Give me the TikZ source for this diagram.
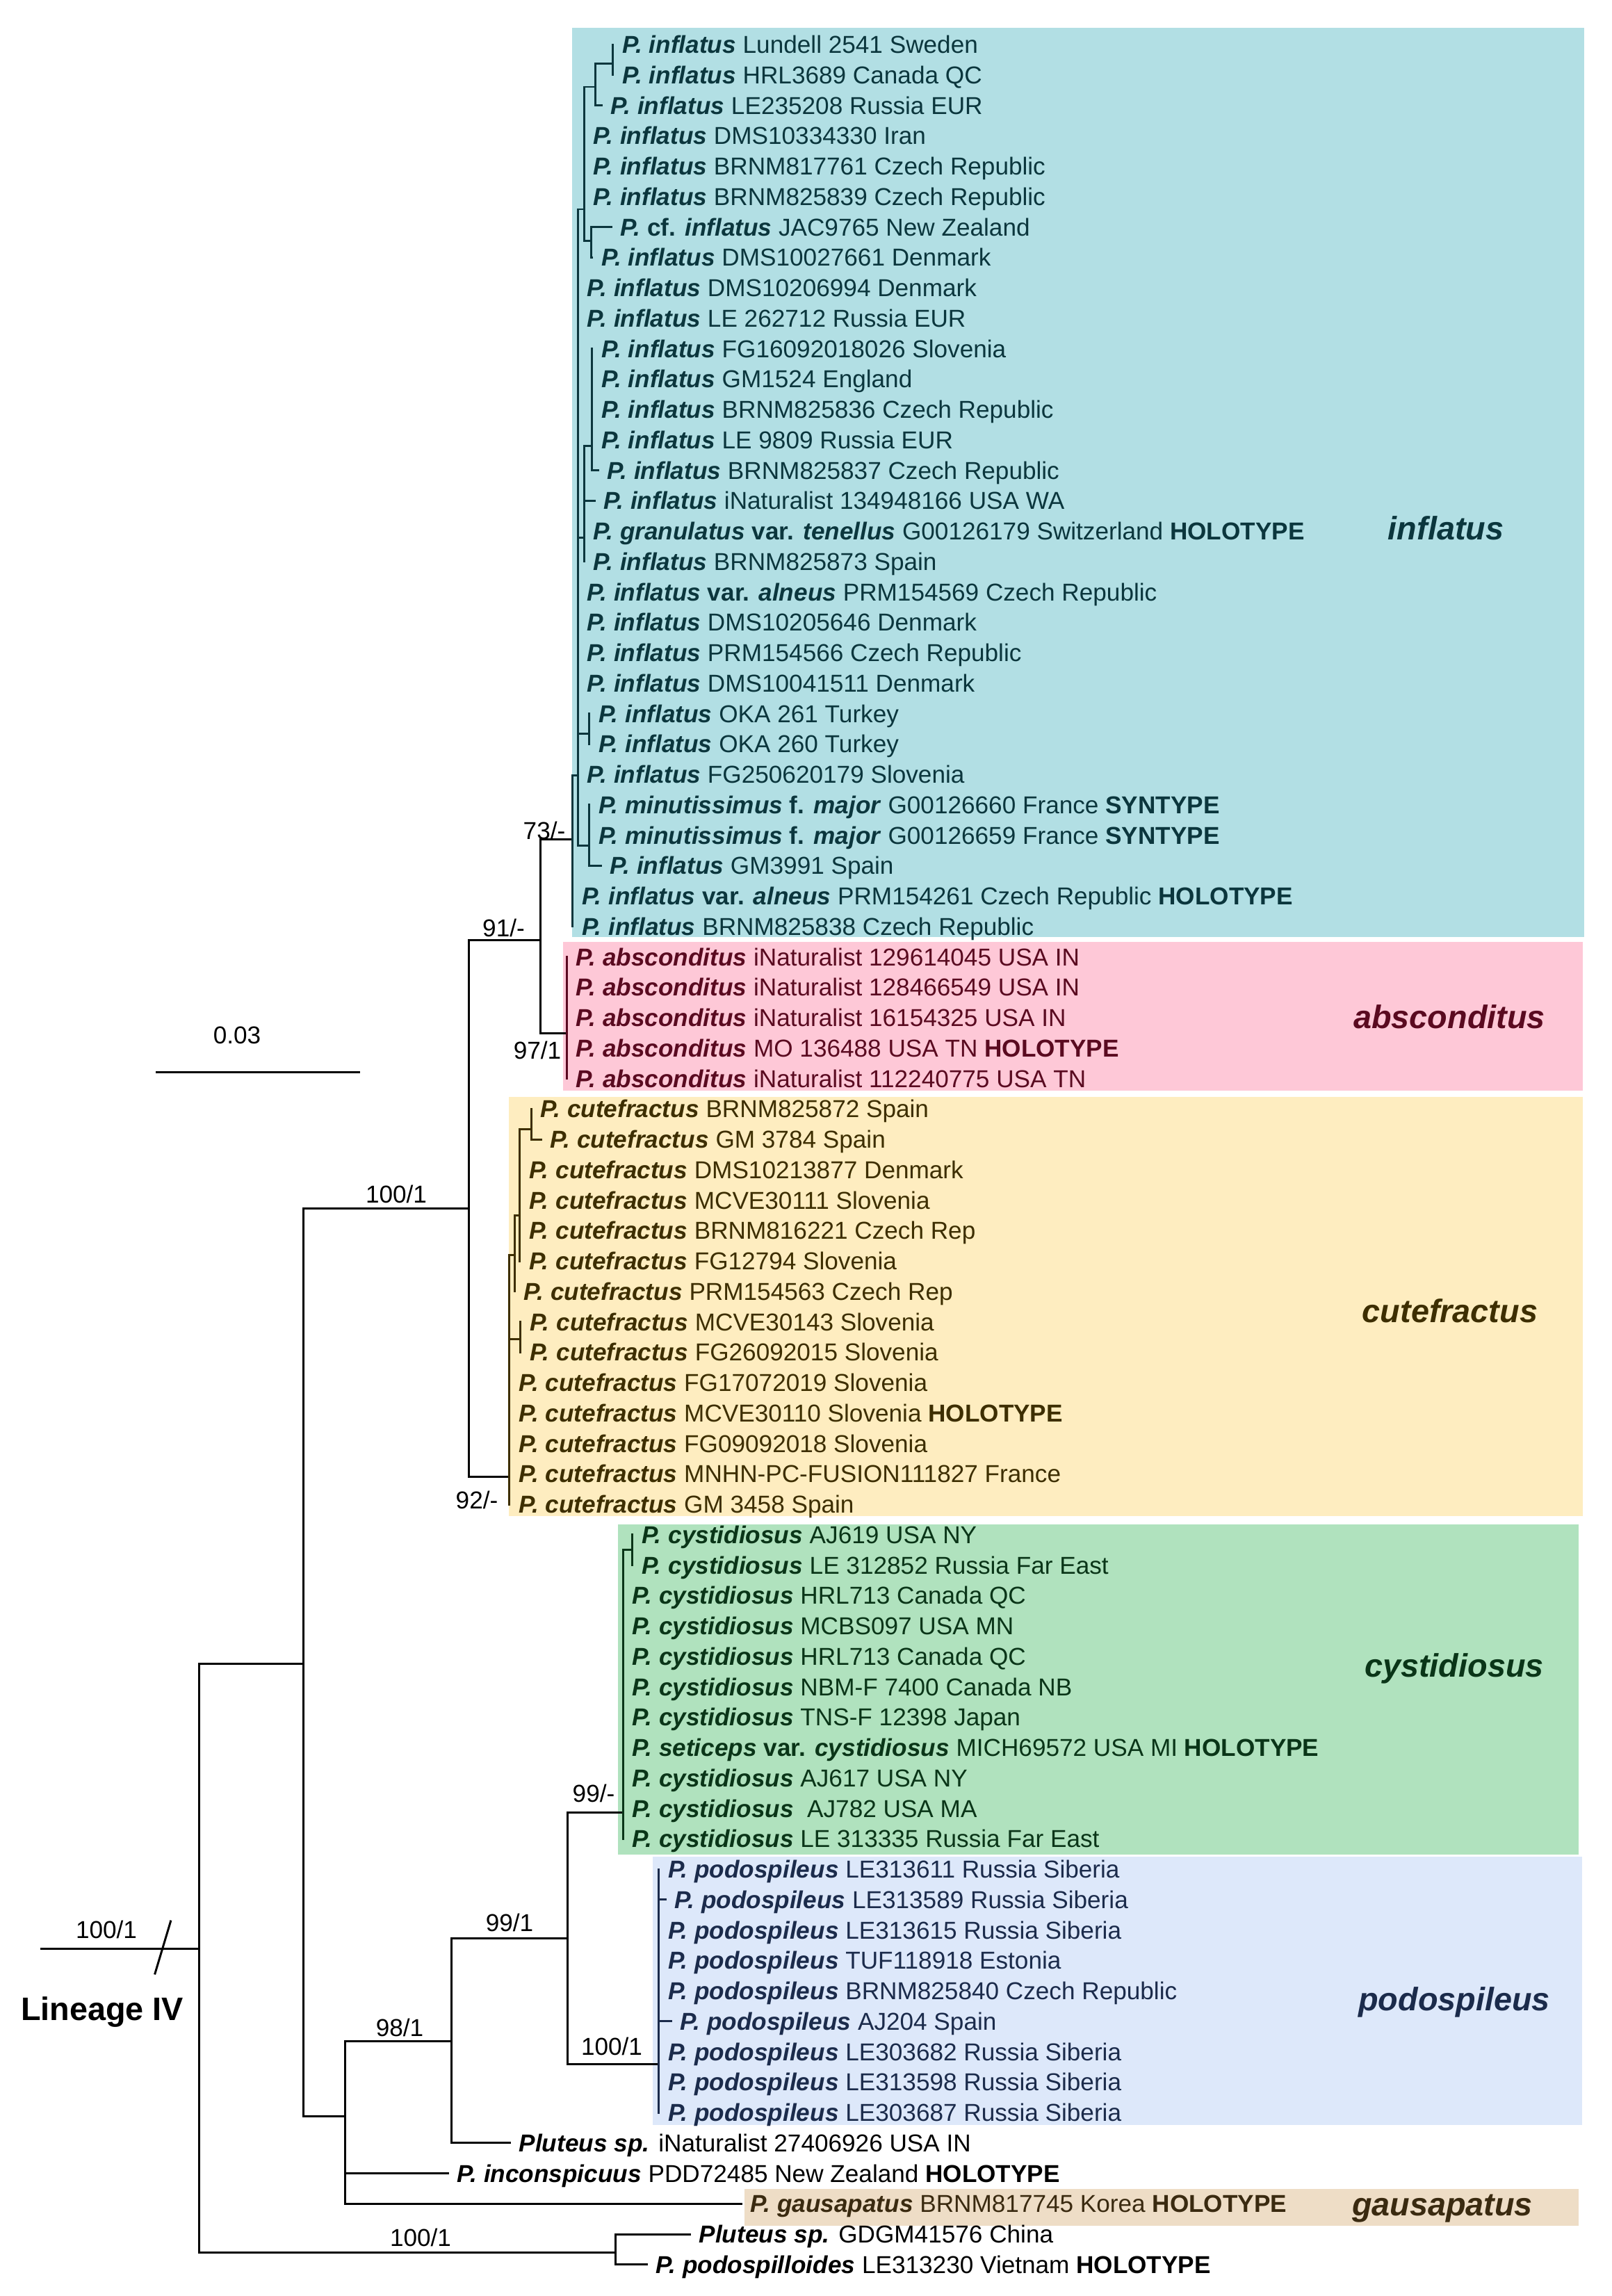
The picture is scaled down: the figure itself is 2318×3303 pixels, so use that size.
\documentclass[tikz,border=0pt]{standalone}
\usepackage{fontspec}
\setmainfont{Liberation Sans}
\newcommand{\sbi}[1]{\textbf{\textit{#1}}}
\newcommand{\sbf}[1]{\textbf{#1}}
\definecolor{infF}{HTML}{B2DFE4}
\definecolor{absF}{HTML}{FEC8D7}
\definecolor{cutF}{HTML}{FEEDC0}
\definecolor{cysF}{HTML}{B0E2BE}
\definecolor{podF}{HTML}{DDE8FA}
\definecolor{gauF}{HTML}{EEDDC6}
\definecolor{infD}{HTML}{0B363D}
\definecolor{absD}{HTML}{5A0A20}
\definecolor{cutD}{HTML}{3D2E00}
\definecolor{cysD}{HTML}{0A3518}
\definecolor{podD}{HTML}{1B2B4B}
\definecolor{gauD}{HTML}{3A2A10}
\begin{document}
\begin{tikzpicture}[x=0.01cm,y=-0.01cm,
 br/.style={line width=0.85pt, line cap=rect},
 tip/.style={anchor=west, inner xsep=0.13cm, inner ysep=0pt, text height=7.16pt, text depth=0pt, font=\fontsize{10pt}{12pt}\selectfont},
 supp/.style={inner sep=0pt, text height=7.16pt, text depth=0pt, font=\fontsize{10pt}{12pt}\selectfont},
 big/.style={inner sep=0pt, text height=9.5pt, text depth=0pt, font=\fontsize{13.3pt}{16pt}\selectfont\bfseries\itshape}]
\useasboundingbox (0,0) rectangle (2318,3303);
% clade boxes
\fill[infF] (822.5,40) rectangle (2279,1348);
\fill[absF] (809.5,1355) rectangle (2277,1569);
\fill[cutF] (731.7,1578) rectangle (2277,2181);
\fill[cysF] (889.3,2193) rectangle (2271,2668);
\fill[podF] (939.3,2671) rectangle (2276,3057);
\fill[gauF] (1071,3149) rectangle (2271,3202);
% internal nodes
\coordinate (stem0) at (59.6,2803);
\coordinate (root) at (286.5,2803);
\coordinate (A) at (436.5,2393.5);
\coordinate (G) at (885,3240);
\coordinate (B) at (674.5,1738);
\coordinate (D) at (496.7,3044);
\coordinate (C) at (777,1352);
\coordinate (cut0) at (732.7,2124);
\coordinate (rInf) at (823.3,1207.7);
\coordinate (rAbs) at (815,1486.5);
\coordinate (n5) at (831,1115);
\coordinate (n3) at (840,301);
\coordinate (n2) at (856.7,125);
\coordinate (n1) at (881.7,91.7);
\coordinate (n4) at (850,346.7);
\coordinate (n7) at (840,773);
\coordinate (n6) at (851.7,641.7);
\coordinate (n9) at (847.3,1055);
\coordinate (n10) at (847.3,1216.7);
\coordinate (cut1) at (740,1805);
\coordinate (cut2) at (747.3,1748);
\coordinate (cut3) at (764,1624);
\coordinate (cut4) at (748.3,1926);
\coordinate (E) at (649,2936);
\coordinate (F) at (816,2788);
\coordinate (rCys) at (896,2607);
\coordinate (cysS) at (909.3,2229.6);
\coordinate (rPod) at (947.3,2969);
% tips: inflatus
\node[tip,text=infD] (t1) at (881.7,64) {\sbi{P. inflatus} Lundell 2541 Sweden};
\node[tip,text=infD] (t2) at (881.7,107.75) {\sbi{P. inflatus} HRL3689 Canada QC};
\node[tip,text=infD] (t3) at (865,151.5) {\sbi{P. inflatus} LE235208 Russia EUR};
\node[tip,text=infD] (t4) at (840,195.25) {\sbi{P. inflatus} DMS10334330 Iran};
\node[tip,text=infD] (t5) at (840,239) {\sbi{P. inflatus} BRNM817761 Czech Republic};
\node[tip,text=infD] (t6) at (840,282.75) {\sbi{P. inflatus} BRNM825839 Czech Republic};
\node[tip,text=infD] (t7) at (879,326.5) {\sbi{P.} \sbf{cf.} \sbi{inflatus} JAC9765 New Zealand};
\node[tip,text=infD] (t8) at (851.5,370.25) {\sbi{P. inflatus} DMS10027661 Denmark};
\node[tip,text=infD] (t9) at (831,414) {\sbi{P. inflatus} DMS10206994 Denmark};
\node[tip,text=infD] (t10) at (831,457.75) {\sbi{P. inflatus} LE 262712 Russia EUR};
\node[tip,text=infD] (t11) at (851.7,501.5) {\sbi{P. inflatus} FG16092018026 Slovenia};
\node[tip,text=infD] (t12) at (851.7,545.25) {\sbi{P. inflatus} GM1524 England};
\node[tip,text=infD] (t13) at (851.7,589) {\sbi{P. inflatus} BRNM825836 Czech Republic};
\node[tip,text=infD] (t14) at (851.7,632.75) {\sbi{P. inflatus} LE 9809 Russia EUR};
\node[tip,text=infD] (t15) at (860,676.5) {\sbi{P. inflatus} BRNM825837 Czech Republic};
\node[tip,text=infD] (t16) at (855,720.25) {\sbi{P. inflatus} iNaturalist 134948166 USA WA};
\node[tip,text=infD] (t17) at (840,764) {\sbi{P. granulatus} \sbf{var.} \sbi{tenellus} G00126179 Switzerland \sbf{HOLOTYPE}};
\node[tip,text=infD] (t18) at (840,807.75) {\sbi{P. inflatus} BRNM825873 Spain};
\node[tip,text=infD] (t19) at (831,851.5) {\sbi{P. inflatus} \sbf{var.} \sbi{alneus} PRM154569 Czech Republic};
\node[tip,text=infD] (t20) at (831,895.25) {\sbi{P. inflatus} DMS10205646 Denmark};
\node[tip,text=infD] (t21) at (831,939) {\sbi{P. inflatus} PRM154566 Czech Republic};
\node[tip,text=infD] (t22) at (831,982.75) {\sbi{P. inflatus} DMS10041511 Denmark};
\node[tip,text=infD] (t23) at (847.3,1026.5) {\sbi{P. inflatus} OKA 261 Turkey};
\node[tip,text=infD] (t24) at (847.3,1070.25) {\sbi{P. inflatus} OKA 260 Turkey};
\node[tip,text=infD] (t25) at (831,1114) {\sbi{P. inflatus} FG250620179 Slovenia};
\node[tip,text=infD] (t26) at (847.3,1157.75) {\sbi{P. minutissimus} \sbf{f.} \sbi{major} G00126660 France \sbf{SYNTYPE}};
\node[tip,text=infD] (t27) at (847.3,1201.5) {\sbi{P. minutissimus} \sbf{f.} \sbi{major} G00126659 France \sbf{SYNTYPE}};
\node[tip,text=infD] (t28) at (864,1245.25) {\sbi{P. inflatus} GM3991 Spain};
\node[tip,text=infD] (t29) at (823.3,1289) {\sbi{P. inflatus} \sbf{var.} \sbi{alneus} PRM154261 Czech Republic \sbf{HOLOTYPE}};
\node[tip,text=infD] (t30) at (823.3,1332.75) {\sbi{P. inflatus} BRNM825838 Czech Republic};
% absconditus
\node[tip,text=absD] (t31) at (815,1376.5) {\sbi{P. absconditus} iNaturalist 129614045 USA IN};
\node[tip,text=absD] (t32) at (815,1420.25) {\sbi{P. absconditus} iNaturalist 128466549 USA IN};
\node[tip,text=absD] (t33) at (815,1464) {\sbi{P. absconditus} iNaturalist 16154325 USA IN};
\node[tip,text=absD] (t34) at (815,1507.75) {\sbi{P. absconditus} MO 136488 USA TN \sbf{HOLOTYPE}};
\node[tip,text=absD] (t35) at (815,1551.5) {\sbi{P. absconditus} iNaturalist 112240775 USA TN};
% cutefractus
\node[tip,text=cutD] (t36) at (764,1595.25) {\sbi{P. cutefractus} BRNM825872 Spain};
\node[tip,text=cutD] (t37) at (778,1639) {\sbi{P. cutefractus} GM 3784 Spain};
\node[tip,text=cutD] (t38) at (747.3,1682.75) {\sbi{P. cutefractus} DMS10213877 Denmark};
\node[tip,text=cutD] (t39) at (747.3,1726.5) {\sbi{P. cutefractus} MCVE30111 Slovenia};
\node[tip,text=cutD] (t40) at (747.3,1770.25) {\sbi{P. cutefractus} BRNM816221 Czech Rep};
\node[tip,text=cutD] (t41) at (747.3,1814) {\sbi{P. cutefractus} FG12794 Slovenia};
\node[tip,text=cutD] (t42) at (740,1857.75) {\sbi{P. cutefractus} PRM154563 Czech Rep};
\node[tip,text=cutD] (t43) at (748.3,1901.5) {\sbi{P. cutefractus} MCVE30143 Slovenia};
\node[tip,text=cutD] (t44) at (748.3,1945.25) {\sbi{P. cutefractus} FG26092015 Slovenia};
\node[tip,text=cutD] (t45) at (732.7,1989) {\sbi{P. cutefractus} FG17072019 Slovenia};
\node[tip,text=cutD] (t46) at (732.7,2032.75) {\sbi{P. cutefractus} MCVE30110 Slovenia \sbf{HOLOTYPE}};
\node[tip,text=cutD] (t47) at (732.7,2076.5) {\sbi{P. cutefractus} FG09092018 Slovenia};
\node[tip,text=cutD] (t48) at (732.7,2120.25) {\sbi{P. cutefractus} MNHN-PC-FUSION111827 France};
\node[tip,text=cutD] (t49) at (732.7,2164) {\sbi{P. cutefractus} GM 3458 Spain};
% cystidiosus
\node[tip,text=cysD] (t50) at (909.3,2207.75) {\sbi{P. cystidiosus} AJ619 USA NY};
\node[tip,text=cysD] (t51) at (909.3,2251.5) {\sbi{P. cystidiosus} LE 312852 Russia Far East};
\node[tip,text=cysD] (t52) at (896,2295.25) {\sbi{P. cystidiosus} HRL713 Canada QC};
\node[tip,text=cysD] (t53) at (896,2339) {\sbi{P. cystidiosus} MCBS097 USA MN};
\node[tip,text=cysD] (t54) at (896,2382.75) {\sbi{P. cystidiosus} HRL713 Canada QC};
\node[tip,text=cysD] (t55) at (896,2426.5) {\sbi{P. cystidiosus} NBM-F 7400 Canada NB};
\node[tip,text=cysD] (t56) at (896,2470.25) {\sbi{P. cystidiosus} TNS-F 12398 Japan};
\node[tip,text=cysD] (t57) at (896,2514) {\sbi{P. seticeps} \sbf{var.} \sbi{cystidiosus} MICH69572 USA MI \sbf{HOLOTYPE}};
\node[tip,text=cysD] (t58) at (896,2557.75) {\sbi{P. cystidiosus} AJ617 USA NY};
\node[tip,text=cysD] (t59) at (896,2601.5) {\sbi{P. cystidiosus}\ \ AJ782 USA MA};
\node[tip,text=cysD] (t60) at (896,2645.25) {\sbi{P. cystidiosus} LE 313335 Russia Far East};
% podospileus
\node[tip,text=podD] (t61) at (947.3,2689) {\sbi{P. podospileus} LE313611 Russia Siberia};
\node[tip,text=podD] (t62) at (957,2732.75) {\sbi{P. podospileus} LE313589 Russia Siberia};
\node[tip,text=podD] (t63) at (947.3,2776.5) {\sbi{P. podospileus} LE313615 Russia Siberia};
\node[tip,text=podD] (t64) at (947.3,2820.25) {\sbi{P. podospileus} TUF118918 Estonia};
\node[tip,text=podD] (t65) at (947.3,2864) {\sbi{P. podospileus} BRNM825840 Czech Republic};
\node[tip,text=podD] (t66) at (965,2907.75) {\sbi{P. podospileus} AJ204 Spain};
\node[tip,text=podD] (t67) at (947.3,2951.5) {\sbi{P. podospileus} LE303682 Russia Siberia};
\node[tip,text=podD] (t68) at (947.3,2995.25) {\sbi{P. podospileus} LE313598 Russia Siberia};
\node[tip,text=podD] (t69) at (947.3,3039) {\sbi{P. podospileus} LE303687 Russia Siberia};
% others
\node[tip] (t70) at (733,3082.75) {\sbi{Pluteus sp.} iNaturalist 27406926 USA IN};
\node[tip] (t71) at (644,3126.5) {\sbi{P. inconspicuus} PDD72485 New Zealand \sbf{HOLOTYPE}};
\node[tip,text=gauD] (t72) at (1066,3170.25) {\sbi{P. gausapatus} BRNM817745 Korea \sbf{HOLOTYPE}};
\node[tip] (t73) at (992,3214) {\sbi{Pluteus sp.} GDGM41576 China};
\node[tip] (t74) at (930,3257.75) {\sbi{P. podospilloides} LE313230 Vietnam \sbf{HOLOTYPE}};
% backbone edges (black)
\draw[br] (stem0) -- (root);
\foreach \p/\c in {root/A, root/G, A/B, A/D, B/C, B/cut0, C/rInf, C/rAbs, D/E, E/F, F/rCys, F/rPod}
  \draw[br] (\p) |- (\c);
\foreach \p/\c in {D/t71, D/t72, E/t70, G/t73, G/t74}
  \draw[br] (\p) |- (\c.west);
% inflatus edges
\foreach \p/\c in {rInf/n5, n5/n3, n5/n7, n5/n9, n5/n10, n3/n2, n3/n4, n2/n1, n7/n6}
  \draw[br,infD] (\p) |- (\c);
\foreach \p/\c in {n1/t1,n1/t2,n2/t3,n3/t4,n3/t5,n3/t6,n4/t7,n4/t8,n5/t9,n5/t10,n6/t11,n6/t12,n6/t13,n6/t14,n6/t15,n7/t16,n7/t17,n7/t18,n5/t19,n5/t20,n5/t21,n5/t22,n9/t23,n9/t24,n5/t25,n10/t26,n10/t27,n10/t28,rInf/t29,rInf/t30}
  \draw[br,infD] (\p) |- (\c.west);
% absconditus edges
\foreach \c in {t31,t32,t33,t34,t35}
  \draw[br,absD] (rAbs) |- (\c.west);
% cutefractus edges
\foreach \p/\c in {cut0/cut1, cut0/cut4, cut1/cut2, cut2/cut3}
  \draw[br,cutD] (\p) |- (\c);
\foreach \p/\c in {cut3/t36,cut3/t37,cut2/t38,cut2/t39,cut2/t40,cut2/t41,cut1/t42,cut4/t43,cut4/t44,cut0/t45,cut0/t46,cut0/t47,cut0/t48,cut0/t49}
  \draw[br,cutD] (\p) |- (\c.west);
% cystidiosus edges
\draw[br,cysD] (rCys) |- (cysS);
\foreach \p/\c in {cysS/t50,cysS/t51,rCys/t52,rCys/t53,rCys/t54,rCys/t55,rCys/t56,rCys/t57,rCys/t58,rCys/t59,rCys/t60}
  \draw[br,cysD] (\p) |- (\c.west);
% podospileus edges
\foreach \c in {t61,t62,t63,t64,t65,t66,t67,t68,t69}
  \draw[br,podD] (rPod) |- (\c.west);
% support values
\node[supp] (s1) at (153,2776) {100/1};
\node[supp] (s2) at (570,1718) {100/1};
\node[supp] (s3) at (724.5,1335) {91/-};
\node[supp] (s4) at (783,1195) {73/-};
\node[supp] (s5) at (773,1511) {97/1};
\node[supp] (s6) at (686,2158) {92/-};
\node[supp] (s7) at (575,2917) {98/1};
\node[supp] (s8) at (733,2766) {99/1};
\node[supp] (s9) at (854,2580) {99/-};
\node[supp] (s10) at (880,2944) {100/1};
\node[supp] (s11) at (605,3219) {100/1};
% stem break and lineage label
\coordinate (sl1) at (223,2839);
\coordinate (sl2) at (245.5,2764);
\draw[br] (sl1) -- (sl2);
\node[inner sep=0pt, text height=9.5pt, text depth=0pt, font=\fontsize{13.3pt}{16pt}\selectfont\bfseries] (lin) at (147,2890) {Lineage IV};
% scale bar
\coordinate (sb1) at (224,1542);
\coordinate (sb2) at (518,1542);
\draw[br,line cap=butt] (sb1) -- (sb2);
\node[supp] (sbl) at (341,1489) {0.03};
% clade names
\node[big,text=infD] (Linf) at (2080,760) {inflatus};
\node[big,text=absD] (Labs) at (2085,1463) {absconditus};
\node[big,text=cutD] (Lcut) at (2086,1886) {cutefractus};
\node[big,text=cysD] (Lcys) at (2092,2396) {cystidiosus};
\node[big,text=podD] (Lpod) at (2092,2876) {podospileus};
\node[big,text=gauD] (Lgau) at (2075,3171) {gausapatus};
\end{tikzpicture}
\end{document}
